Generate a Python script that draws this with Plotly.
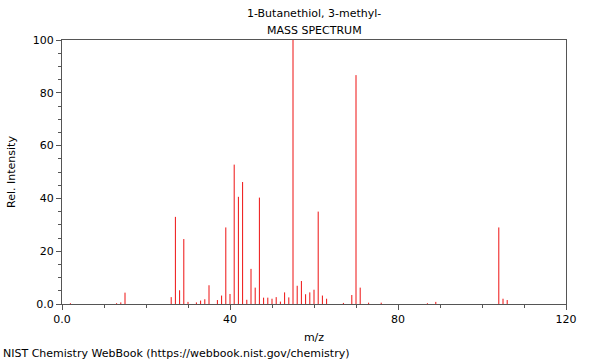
import plotly.graph_objects as go

mz = [2, 13, 14, 15, 26, 27, 28, 29, 30, 32, 33, 34, 35, 37, 38, 39, 40, 41, 42, 43, 44, 45, 46, 47,
      48, 49, 50, 51, 52, 53, 54, 55, 56, 57, 58, 59, 60, 61, 62, 63, 67, 69, 70, 71, 73, 76,
      87, 89, 104, 105, 106]
intensity = [0.3, 0.3, 0.6, 4.3, 2.6, 33.0, 5.2, 24.6, 0.8, 0.6, 1.3, 1.8, 7.1, 1.5, 3.2, 29.0, 3.8,
             52.8, 40.6, 46.2, 1.6, 13.3, 6.2, 40.3, 2.4, 2.4, 2.0, 2.6, 0.9, 4.4, 2.5, 100.0,
             6.9, 8.7, 3.7, 4.4, 5.4, 35.0, 3.2, 2.0, 0.4, 3.4, 86.7, 6.2, 0.5, 0.5,
             0.3, 0.8, 29.0, 2.0, 1.5]

title_lines = ["1-Butanethiol, 3-methyl-", "MASS SPECTRUM"]
x_ticks = [0, 40, 80, 120]
x_tick_labels = ["0.0", "40", "80", "120"]
y_ticks = [0, 20, 40, 60, 80, 100]
y_tick_labels = ["0.0", "20", "40", "60", "80", "100"]

xs, ys = [], []
for m, v in zip(mz, intensity):
    xs += [m, m, None]
    ys += [0, v, None]

font = "DejaVu Sans, Verdana, sans-serif"
axis_col = "#555555"

fig = go.Figure()
fig.add_trace(go.Scatter(x=xs, y=ys, mode="lines",
                         line=dict(color="#ee1111", width=1),
                         hoverinfo="skip", showlegend=False))

pw, ph = 600 - 62 - 34, 360 - 40 - 56
fig.update_layout(
    width=600, height=360,
    margin=dict(l=62, r=34, t=40, b=56),
    paper_bgcolor="white", plot_bgcolor="white",
    font=dict(family=font, size=11, color="#000000"),
    showlegend=False,
    annotations=[
        dict(text=title_lines[0], x=0.5, y=1, xref="paper", yref="paper",
             xanchor="center", yanchor="bottom", yshift=18, showarrow=False,
             font=dict(size=11)),
        dict(text=title_lines[1], x=0.5, y=1, xref="paper", yref="paper",
             xanchor="center", yanchor="bottom", yshift=1, showarrow=False,
             font=dict(size=11)),
        dict(text="NIST Chemistry WebBook (https://webbook.nist.gov/chemistry)",
             x=(1 - 62) / pw, y=(304 - 353) / ph, xref="paper", yref="paper",
             xanchor="left", yanchor="middle", showarrow=False),
    ],
)

fig.update_xaxes(range=[0, 120], tickvals=x_ticks, ticktext=x_tick_labels,
                 ticks="outside", ticklen=5, tickcolor=axis_col,
                 minor=dict(dtick=10, tick0=0, ticks="outside", ticklen=3, tickcolor=axis_col),
                 showline=True, linecolor=axis_col, linewidth=1, mirror=True,
                 showgrid=False, zeroline=False,
                 title=dict(text="m/z", standoff=8, font=dict(size=11)))
fig.update_yaxes(range=[0, 100], tickvals=y_ticks, ticktext=y_tick_labels,
                 ticks="outside", ticklen=5, tickcolor=axis_col,
                 minor=dict(dtick=5, tick0=0, ticks="outside", ticklen=3, tickcolor=axis_col),
                 showline=True, linecolor=axis_col, linewidth=1, mirror=True,
                 showgrid=False, zeroline=False,
                 title=dict(text="Rel. Intensity", standoff=14, font=dict(size=11)))

fig.write_html("out.html", config={"displayModeBar": False},
               post_script="document.body.style.margin='0';document.body.style.overflow='hidden';")
